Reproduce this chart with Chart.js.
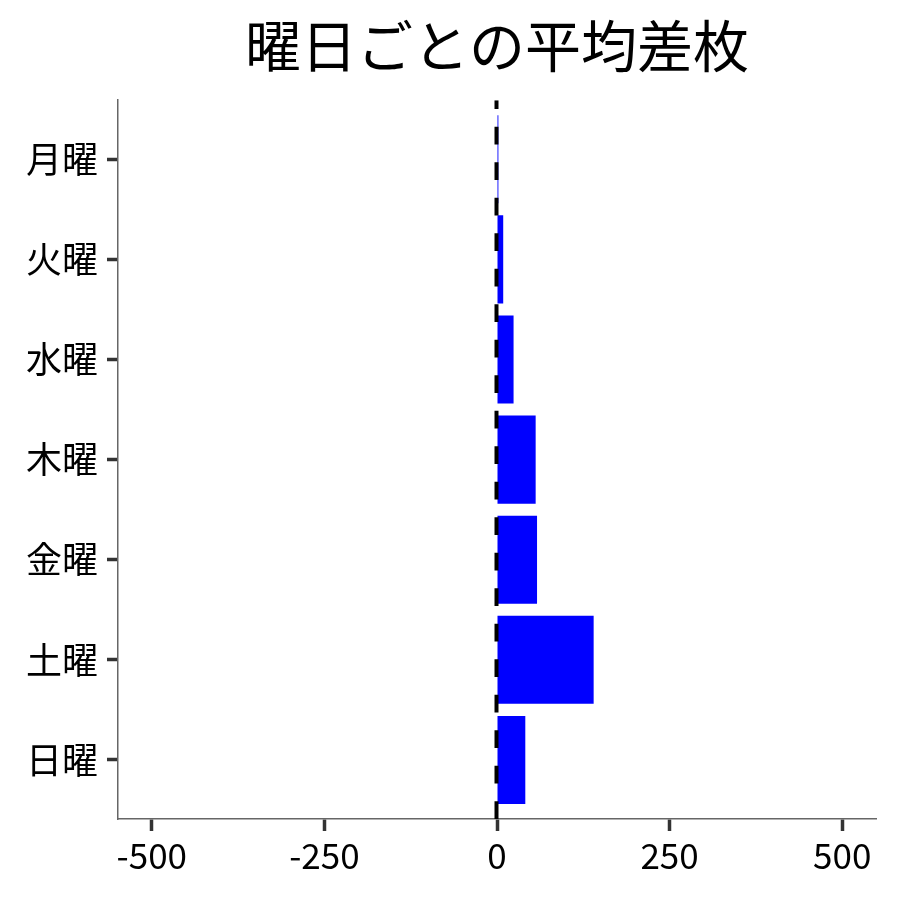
<!DOCTYPE html>
<html>
<head>
<meta charset="utf-8">
<script src="https://cdn.jsdelivr.net/npm/chart.js@4.4.1/dist/chart.umd.min.js"></script>
<style>
  html, body { margin: 0; padding: 0; background: #fff; }
  #wrap { width: 900px; height: 900px; }
</style>
</head>
<body>
<div id="wrap"><canvas id="mycanvas"></canvas></div>
<script>
// 曜日ごとの平均差枚
var days = ['月曜', '火曜', '水曜', '木曜', '金曜', '土曜', '日曜'];
var avgDiff = [2, 9, 24, 56, 58, 140, 41];
var xTicks = [-500, -250, 0, 250, 500];

var FONT = '"Noto Sans CJK JP", "Noto Sans", sans-serif';

var points = [];
for (var i in days) {
    points.push({ x: avgDiff[i], y: Number(i) });
}

// dashed line at zero, and title centred over the plot area
var zeroLine = {
    id: 'zeroLine',
    afterLayout: function (chart) {
        if (chart.titleBlock) {
            chart.titleBlock.left = chart.chartArea.left;
            chart.titleBlock.right = chart.chartArea.right;
        }
    },
    afterDatasetsDraw: function (chart) {
        var ctx = chart.ctx;
        var xs = chart.scales.x;
        var area = chart.chartArea;
        var px = xs.getPixelForValue(0);
        ctx.save();
        ctx.beginPath();
        ctx.rect(area.left, area.top, area.right - area.left, area.bottom - area.top);
        ctx.clip();
        ctx.strokeStyle = '#000';
        ctx.lineWidth = 4;
        ctx.setLineDash([17.75, 17.75]);
        ctx.beginPath();
        ctx.moveTo(px - 0.5, area.bottom);
        ctx.lineTo(px - 0.5, area.top);
        ctx.stroke();
        ctx.restore();
    }
};

var ctx = document.getElementById('mycanvas');

var barGraph = new Chart(ctx, {
    type: 'bar',
    data: {
        datasets: [
            {
                label: '平均差枚',
                data: points,
                backgroundColor: '#0000ff',
                borderWidth: 0,
                barPercentage: 0.88,
                categoryPercentage: 1
            }
        ]
    },
    options: {
        indexAxis: 'y',
        responsive: true,
        maintainAspectRatio: false,
        animation: false,
        devicePixelRatio: 1,
        layout: { padding: { left: 0, right: 24, top: 0, bottom: 0 } },
        plugins: {
            legend: { display: false },
            tooltip: { enabled: false },
            title: {
                display: true,
                text: '曜日ごとの平均差枚',
                color: '#000',
                font: { family: FONT, size: 56, weight: 'normal' },
                padding: { top: 12, bottom: 21 }
            }
        },
        scales: {
            x: {
                type: 'linear',
                min: -549,
                max: 549,
                afterBuildTicks: function (scale) {
                    scale.ticks = xTicks.map(function (v) { return { value: v }; });
                },
                afterFit: function (scale) { scale.height = 81; },
                ticks: {
                    color: '#000',
                    font: { family: FONT, size: 35 },
                    padding: 4,
                    maxRotation: 0,
                    callback: function (v) { return String(v); }
                },
                grid: {
                    drawOnChartArea: false,
                    drawTicks: true,
                    tickLength: 12,
                    tickWidth: 3.5,
                    tickColor: '#333'
                },
                border: { display: true, color: '#666', width: 1.5 }
            },
            y: {
                type: 'linear',
                reverse: true,
                offset: false,
                min: -0.59,
                max: 6.59,
                afterBuildTicks: function (scale) {
                    scale.ticks = days.map(function (d, i) { return { value: i }; });
                },
                afterFit: function (scale) { scale.width = 118; },
                ticks: {
                    color: '#000',
                    font: { family: FONT, size: 36 },
                    padding: 9,
                    callback: function (v) { return days[v]; }
                },
                grid: {
                    offset: false,
                    drawOnChartArea: false,
                    drawTicks: true,
                    tickLength: 11,
                    tickWidth: 3.5,
                    tickColor: '#333'
                },
                border: { display: true, color: '#666', width: 1.5 }
            }
        }
    },
    plugins: [zeroLine]
});
</script>
</body>
</html>
